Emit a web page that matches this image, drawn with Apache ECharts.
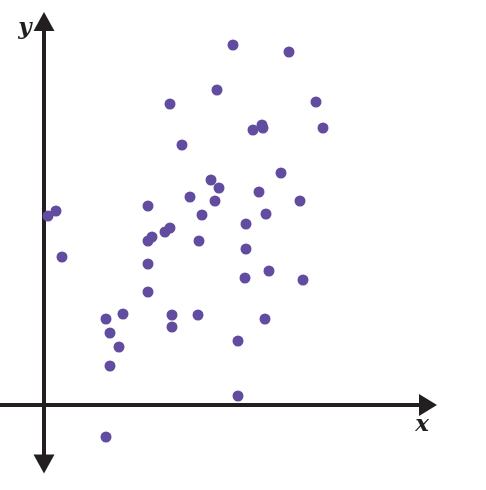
<!DOCTYPE html>
<html>
<head>
<meta charset="utf-8">
<script src="https://cdn.jsdelivr.net/npm/echarts@6/dist/echarts.min.js"></script>
<style>
html,body{margin:0;padding:0;background:#fff;}
#chart{width:486px;height:490px;}
</style>
</head>
<body>
<div id="chart"></div>
<script>
// Point values (x, y), in arbitrary units, origin at the axis crossing
const xValues = [189, 245, 173, 126, 272, 209, 218, 219, 279, 138, 237,
  4, 12, 18, 104, 104, 108, 121, 126, 104, 104, 62, 79, 66, 75, 66, 62, 128,
  167, 175, 146, 171, 215, 256, 158, 222, 202, 155, 202, 201, 225, 259, 128, 154, 221, 194, 194];
const yValues = [360, 353, 315, 301, 303, 275, 280, 277, 277, 260, 232,
  189, 194, 148, 199, 164, 168, 173, 177, 141, 113, 86, 91, 72, 58, 39, -32, 78,
  225, 217, 208, 204, 213, 204, 190, 191, 181, 164, 156, 127, 134, 125, 90, 90, 86, 64, 9];
const xLabel = 'x';
const yLabel = 'y';

const points = xValues.map((x, i) => [x, yValues[i]]);

const chart = echarts.init(document.getElementById('chart'), null, {renderer: 'canvas'});
const axisColor = '#231f20';
const axisLineCommon = {
  show: true,
  onZero: true,
  lineStyle: {color: axisColor, width: 4}
};
chart.setOption({
  animation: false,
  backgroundColor: '#ffffff',
  grid: {left: 0, right: 58, top: 21.5, bottom: 26, containLabel: false},
  xAxis: {
    type: 'value', min: -44, max: 384,
    axisLine: Object.assign({}, axisLineCommon, {symbol: ['none', 'triangle'], symbolSize: [22, 18]}),
    axisTick: {show: false}, axisLabel: {show: false}, splitLine: {show: false}
  },
  yAxis: {
    type: 'value', min: -59, max: 383.5,
    axisLine: Object.assign({}, axisLineCommon, {symbol: ['triangle', 'triangle'], symbolSize: [21, 19]}),
    axisTick: {show: false}, axisLabel: {show: false}, splitLine: {show: false}
  },
  graphic: [
    {type: 'text', x: 25, y: 28, style: {text: yLabel, font: 'italic bold 23px "DejaVu Serif"', fill: axisColor, align: 'center', verticalAlign: 'middle'}},
    {type: 'text', x: 422, y: 425, style: {text: xLabel, font: 'italic bold 23px "DejaVu Serif"', fill: axisColor, align: 'center', verticalAlign: 'middle'}}
  ],
  series: [{
    type: 'scatter',
    data: points,
    symbolSize: 11,
    itemStyle: {color: '#624ca0', opacity: 1}
  }]
});
</script>
</body>
</html>
